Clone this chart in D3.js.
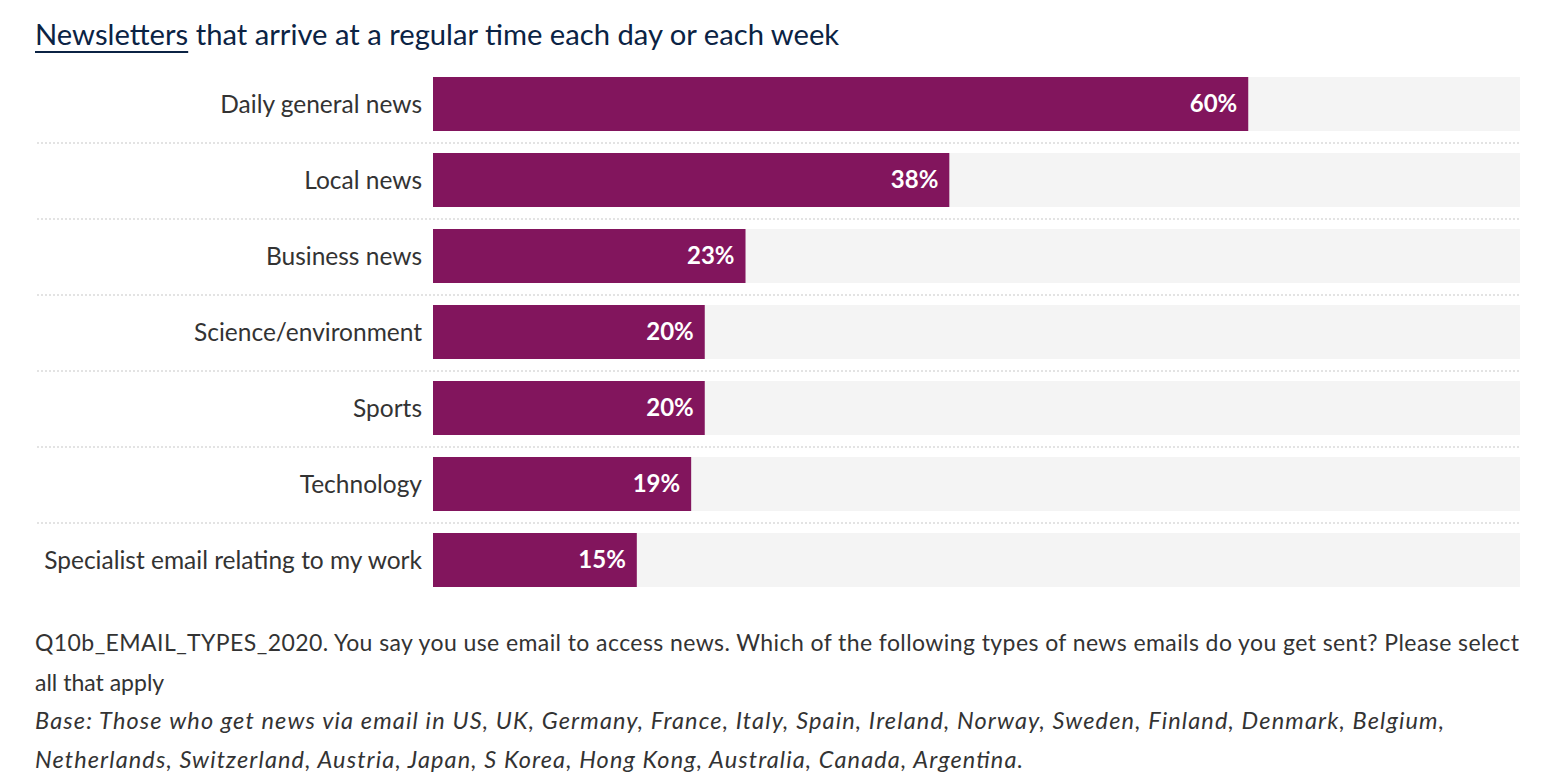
<!DOCTYPE html>
<html><head><meta charset="utf-8">
<script src="https://cdn.jsdelivr.net/npm/d3@7"></script>
<style>
body{margin:0;background:#fff;}
svg{display:block;font-family:Lato,"Open Sans",sans-serif;}
</style></head>
<body><svg id="c" width="1562" height="780"></svg>
<script>
const categories = ["Daily general news","Local news","Business news","Science/environment","Sports","Technology","Specialist email relating to my work"];
const values = [60,38,23,20,20,19,15];
const titleUnderlined = "Newsletters";
const titleRest = " that arrive at a regular time each day or each week";
const footLines = ["Q10b_EMAIL_TYPES_2020. You say you use email to access news. Which of the following types of news emails do you get sent? Please select","all that apply"];
const baseLines = ["Base: Those who get news via email in US, UK, Germany, France, Italy, Spain, Ireland, Norway, Sweden, Finland, Denmark, Belgium,","Netherlands, Switzerland, Austria, Japan, S Korea, Hong Kong, Australia, Canada, Argentina."];

const svg = d3.select("#c");
const x = d3.scaleLinear().domain([0,80]).range([433,1520]);
const yb = d3.scaleBand().domain(categories).range([77,77+76*7-22]).paddingInner(22/76);

function fit(sel, w){
  const n = sel.node(); const cur = n.getComputedTextLength();
  if (Math.abs(cur-w) > 2) sel.attr("textLength", w).attr("lengthAdjust","spacing");
  return sel;
}

// title
const t = svg.append("text").attr("x",35).attr("y",45).attr("font-size",29.2).attr("fill","#0b2344");
t.append("tspan").text(titleUnderlined);
t.append("tspan").text(titleRest);
const tw = t.select("tspan").node().getComputedTextLength();
svg.append("rect").attr("x",35).attr("y",51).attr("width",tw).attr("height",2).attr("fill","#0b2344");

const g = svg.append("g");
const rows = g.selectAll("g.row").data(categories).join("g");
rows.append("rect").attr("x",x(0)).attr("y",d=>yb(d)).attr("width",x(80)-x(0)).attr("height",yb.bandwidth()).attr("fill","#f4f4f4");
rows.append("rect").attr("x",x(0)).attr("y",d=>yb(d)).attr("width",(d,i)=>x(values[i])-x(0)).attr("height",yb.bandwidth()).attr("fill","#82155d");
rows.append("text").attr("x",422).attr("y",d=>yb(d)+yb.bandwidth()/2).attr("dy","0.35em").attr("text-anchor","end").attr("font-size",24.5).attr("fill","#333").text(d=>d);
rows.append("text").attr("x",(d,i)=>x(values[i])-11).attr("y",d=>yb(d)+yb.bandwidth()/2).attr("dy","0.35em").attr("text-anchor","end").attr("font-size",24).attr("font-weight","bold").attr("fill","#fff").text((d,i)=>values[i]+"%");
// separators
g.selectAll("line.sep").data(categories.slice(0,-1)).join("line")
 .attr("x1",37).attr("x2",1520).attr("y1",d=>yb(d)+yb.bandwidth()+12).attr("y2",d=>yb(d)+yb.bandwidth()+12)
 .attr("stroke","#e3e3e3").attr("stroke-width",2).attr("stroke-dasharray","2 2");

// footnotes
const footW = [1484, null];
footLines.forEach((l,i)=>{
  const s = svg.append("text").attr("x",35).attr("y",651+i*40).attr("font-size",23).attr("fill","#333").text(l);
  if (footW[i]) fit(s, footW[i]);
});
const baseW = [1409, 988];
baseLines.forEach((l,i)=>{
  const s = svg.append("text").attr("x",35).attr("y",729+i*39).attr("font-size",23.5).attr("font-style","italic").attr("fill","#333").text(l);
  fit(s, baseW[i]);
});
</script></body></html>
